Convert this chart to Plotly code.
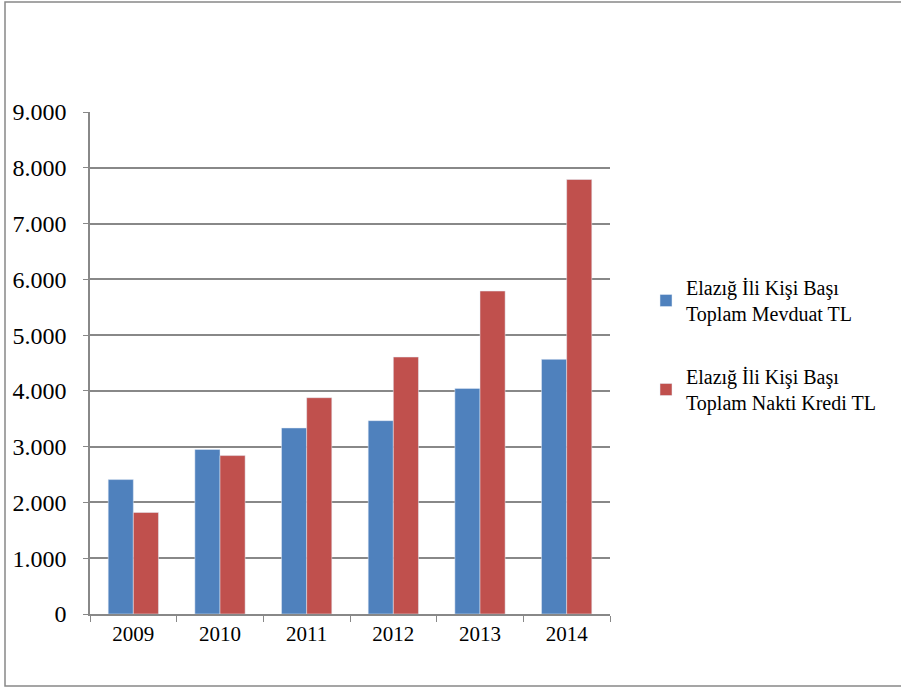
import plotly.graph_objects as go

years = ["2009", "2010", "2011", "2012", "2013", "2014"]
mevduat = [2410, 2950, 3335, 3466, 4045, 4565]
kredi = [1820, 2840, 3878, 4607, 5790, 7790]
names = ["Elazığ İli Kişi Başı<br>Toplam Mevduat TL", "Elazığ İli Kişi Başı<br>Toplam Nakti Kredi TL"]
colors = ["#4F81BD", "#C0504D"]
FAM = "Liberation Serif"

fig = go.Figure()
fig.add_trace(go.Bar(x=years, y=mevduat, name=names[0], marker_color=colors[0], legendgroup="a"))
fig.add_trace(go.Bar(x=years, y=kredi, name=names[1], marker_color=colors[1], legendgroup="b"))

W, H = 901, 688
L, R, T, B = 90, 291, 112, 74
pw, ph = W - L - R, H - T - B

def px_x(p):
    return (p - L) / pw

def px_y(p):
    return (H - B - p) / ph

fig.update_layout(
    width=W, height=H,
    margin=dict(l=L, r=R, t=T, b=B, pad=0, autoexpand=False),
    paper_bgcolor="white", plot_bgcolor="white",
    font=dict(family=FAM, size=20, color="black"),
    separators=",.",
    barmode="group", bargap=0.42, bargroupgap=0,
    showlegend=True,
    legend=dict(x=px_x(646), y=px_y(268), xanchor="left", yanchor="top",
                font=dict(family=FAM, size=20, color="black"), tracegroupgap=34,
                itemwidth=30, bgcolor="rgba(0,0,0,0)"),
    xaxis=dict(showline=True, linecolor="#888888", linewidth=1.5, automargin=False,
               ticks="outside", tickson="boundaries", ticklen=6, tickcolor="#888888",
               showgrid=False, tickfont=dict(family=FAM, size=21, color="black")),
    yaxis=dict(range=[0, 9000], tickvals=list(range(0, 9001, 1000)), tickformat=",d",
               showline=True, linecolor="#888888", linewidth=1.5, automargin=False,
               ticks="outside", ticklen=5, tickcolor="#888888", ticklabelstandoff=12,
               showgrid=True, gridcolor="#888888", gridwidth=1.5,
               zeroline=False, tickfont=dict(family=FAM, size=24, color="black")),
    shapes=[dict(type="rect", xref="paper", yref="paper",
                 x0=px_x(5), x1=px_x(905), y0=px_y(686), y1=px_y(2),
                 line=dict(color="#888888", width=1.5), fillcolor="rgba(0,0,0,0)")],
)

fig.write_html("out.html")
